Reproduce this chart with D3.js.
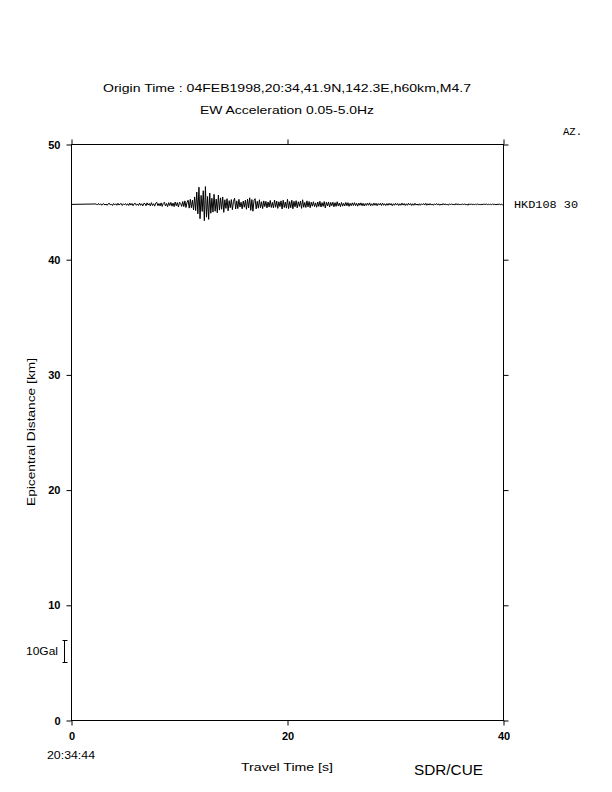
<!DOCTYPE html>
<html><head><meta charset="utf-8">
<script src="https://cdn.jsdelivr.net/npm/d3@7"></script>
<style>body{margin:0;background:#fff}svg{display:block}text{fill:#000}</style>
</head><body><svg id="c" width="612" height="792"></svg>
<script>
// ---- data ----
const titleLines = ["Origin Time : 04FEB1998,20:34,41.9N,142.3E,h60km,M4.7", "EW Acceleration 0.05-5.0Hz"];
const xTicks = [0, 20, 40];
const yTicks = [0, 10, 20, 30, 40, 50];
const stationName = "HKD108 30";
const stationDist = 44.8;          // km
const traceLeadTime = 0;           // s, flat lead-in start
const traceT0 = 2.3;               // s, first sample
const traceDt = 0.1;               // s
const scaleGal = 10;               // scale bar value
const startClock = "20:34:44";
// acceleration samples (Gal)
const accel = [
 0.2,-0.3,0.4,-0.2,0.3,-0.4,0.2,0.3,-0.3,0.2,
 -0.4,0.3,0.5,-0.3,0.2,-0.5,0.4,-0.2,0.3,-0.4,
 0.5,-0.3,0.2,0.4,-0.5,0.3,-0.2,0.4,-0.4,0.3,
 -0.5,0.6,-0.3,0.4,-0.6,0.3,0.5,-0.4,0.2,-0.5,
 0.6,-0.4,0.3,-0.7,0.5,0.4,-0.6,0.7,-0.3,0.4,
 -0.7,0.8,-0.5,0.3,-0.8,0.6,0.9,-0.6,0.4,-0.7,
 0.7,-0.9,0.5,1.0,-0.7,0.4,-1.0,0.8,-0.5,0.9,
 -0.8,0.6,-1.0,1.1,-0.6,0.8,-1.2,1.0,0.5,-0.9,
 1.3,-1.0,1.6,-1.4,0.9,1.9,-1.7,2.3,-1.5,2.0,
 -2.5,3.4,-2.8,5.6,-4.3,7.8,-6.5,4.1,-3.2,6.2,
 -7.4,8.1,-5.8,3.6,-6.8,5.2,-4.0,2.8,-3.5,4.6,
 -3.1,2.4,-3.8,4.2,-2.6,3.0,-2.2,3.4,-3.6,2.1,
 -1.8,2.6,-2.9,1.7,-1.5,2.2,-2.4,1.4,2.8,-2.1,
 1.6,-1.9,2.3,-1.2,1.0,-2.0,1.5,-1.3,1.9,-2.2,
 2.4,-1.6,3.0,-2.7,2.2,-3.1,1.8,2.6,-2.0,1.4,
 -1.7,2.1,-1.5,1.2,-1.9,1.6,-1.0,1.4,-1.6,1.1,
 -1.2,1.8,-1.4,0.9,-1.6,2.0,-1.3,1.5,-1.8,1.2,
 -1.0,1.6,-2.1,1.9,-1.4,1.1,-1.7,2.3,-1.9,1.3,
 -1.5,1.9,-2.0,1.4,-1.1,1.7,-1.6,1.2,-0.9,1.5,
 -1.8,2.1,-1.3,0.9,-1.4,1.6,-1.1,1.3,-1.5,1.0,
 -0.8,1.2,-1.0,0.7,-1.3,1.1,-0.9,1.4,-1.2,0.8,
 -0.9,1.3,-1.6,1.0,-0.7,1.1,-1.2,0.9,-0.6,1.0,
 -1.1,0.8,-0.9,1.2,-0.7,0.6,-1.0,0.9,-0.8,0.5,
 -0.7,0.9,-0.6,0.8,-0.9,0.5,-0.6,0.7,-0.5,0.8,
 -0.6,0.5,-0.8,0.6,-0.4,0.7,-0.6,0.5,-0.7,0.4,
 -0.5,0.6,-0.4,0.7,-0.6,0.3,-0.5,0.6,-0.4,0.5,
 -0.6,0.4,-0.3,0.5,-0.5,0.6,-0.4,0.3,-0.5,0.4,
 -0.4,0.5,-0.3,0.4,-0.6,0.3,-0.4,0.5,-0.3,0.4,
 -0.5,0.3,-0.4,0.6,-0.3,0.4,-0.5,0.3,-0.4,0.5,
 -0.3,0.4,-0.5,0.3,-0.4,0.5,-0.3,0.2,-0.4,0.3,
 -0.4,0.3,-0.2,0.4,-0.3,0.5,-0.4,0.3,-0.3,0.4,
 -0.3,0.2,-0.4,0.3,-0.2,0.4,-0.3,0.3,-0.4,0.2,
 -0.3,0.4,-0.2,0.3,-0.3,0.2,-0.4,0.3,-0.2,0.3,
 -0.3,0.2,-0.3,0.4,-0.2,0.3,-0.3,0.2,-0.3,0.3,
 -0.2,0.3,-0.3,0.2,-0.4,0.3,-0.2,0.3,-0.2,0.2,
 -0.3,0.2,-0.2,0.3,-0.3,0.2,-0.3,0.2,-0.2,0.3,
 -0.2,0.3,-0.2,0.2,-0.3,0.2,-0.2,0.3,-0.2,0.2,
 -0.3,0.2,-0.2,0.3,-0.2,0.2,-0.3,0.1
];

// ---- layout ----
const L = 71, R = 503, T = 144, B = 720;
const x = d3.scaleLinear().domain([0, 40]).range([L, R]);
const y = d3.scaleLinear().domain([0, 50]).range([B, T]);
const barPx = 22;                                   // 10 Gal bar length in px
const kmPerGal = (barPx / (y(0) - y(1))) / scaleGal;
const SANS = "'Liberation Sans', Arial, sans-serif";
const MONO = "'Liberation Mono', 'DejaVu Sans Mono', monospace";

const svg = d3.select("#c");
const g = svg.append("g").attr("transform", "translate(0.5,0.5)");

// frame
g.append("rect").attr("x", L).attr("y", T).attr("width", R - L).attr("height", B - T)
  .attr("fill", "none").attr("stroke", "#000").attr("stroke-width", 1);

// axes
const fmt = d3.format("d");
const yl = g.append("g").attr("transform", `translate(${L},0)`)
  .call(d3.axisLeft(y).tickValues(yTicks).tickSize(5).tickPadding(6).tickFormat(fmt));
const yr = g.append("g").attr("transform", `translate(${R},0)`)
  .call(d3.axisRight(y).tickValues(yTicks).tickSize(5).tickFormat(""));
const xb = g.append("g").attr("transform", `translate(0,${B})`)
  .call(d3.axisBottom(x).tickValues(xTicks).tickSize(5).tickPadding(7).tickFormat(fmt));
const xt = g.append("g").attr("transform", `translate(0,${T})`)
  .call(d3.axisTop(x).tickValues(xTicks).tickSize(5).tickFormat(""));
[yl, yr, xb, xt].forEach(a => {
  a.select(".domain").remove();
  a.selectAll("line").attr("stroke", "#000");
  a.selectAll("text").style("font-family", SANS)
    .style("font-size", "11px").style("font-weight", "bold").style("fill", "#000");
});

// trace
const pts = [[traceLeadTime, 0]].concat(accel.map((a, i) => [traceT0 + i * traceDt, a]));
const line = d3.line().x(d => x(d[0])).y(d => y(stationDist + d[1] * kmPerGal));
g.append("path").attr("d", line(pts)).attr("fill", "none").attr("stroke", "#000").attr("stroke-width", 1);

// scale bar
const sbX = 64, sbY0 = 640;
const sb = svg.append("g").attr("transform", "translate(0.5,0.5)");
sb.append("line").attr("x1", sbX).attr("x2", sbX).attr("y1", sbY0).attr("y2", sbY0 + barPx).attr("stroke", "#000");
sb.append("line").attr("x1", sbX - 2).attr("x2", sbX + 3).attr("y1", sbY0).attr("y2", sbY0).attr("stroke", "#000");
sb.append("line").attr("x1", sbX - 2).attr("x2", sbX + 3).attr("y1", sbY0 + barPx).attr("y2", sbY0 + barPx).attr("stroke", "#000");

// texts
function txt(s, xx, yy, opts = {}) {
  const t = svg.append("text").attr("x", xx).attr("y", yy).text(s)
    .style("font-size", (opts.size || 11) + "px")
    .style("font-family", opts.family || SANS)
    .attr("text-anchor", opts.anchor || "start");
  if (opts.weight) t.style("font-weight", opts.weight);
  if (opts.len) t.attr("textLength", opts.len).attr("lengthAdjust", "spacingAndGlyphs");
  if (opts.rotate) t.attr("transform", `rotate(-90,${xx},${yy})`);
  return t;
}
txt(titleLines[0], 287, 92, {anchor: "middle", len: 368, size: 11.5});
txt(titleLines[1], 287, 114, {anchor: "middle", len: 174, size: 11.5});
txt("AZ.", 563, 135, {family: MONO, size: 10, len: 19});
txt(stationName, 514, 208, {family: MONO, size: 11, len: 64});
txt(scaleGal + "Gal", 26, 655, {size: 10.5, len: 32});
txt(startClock, 47, 759, {size: 10.5, len: 48});
txt("Travel Time [s]", 241, 771, {size: 11.5, len: 92});
txt("SDR/CUE", 414, 775, {size: 14, len: 69});
txt("Epicentral Distance [km]", 35, 432, {anchor: "middle", size: 11.5, len: 148, rotate: true});
</script></body></html>
